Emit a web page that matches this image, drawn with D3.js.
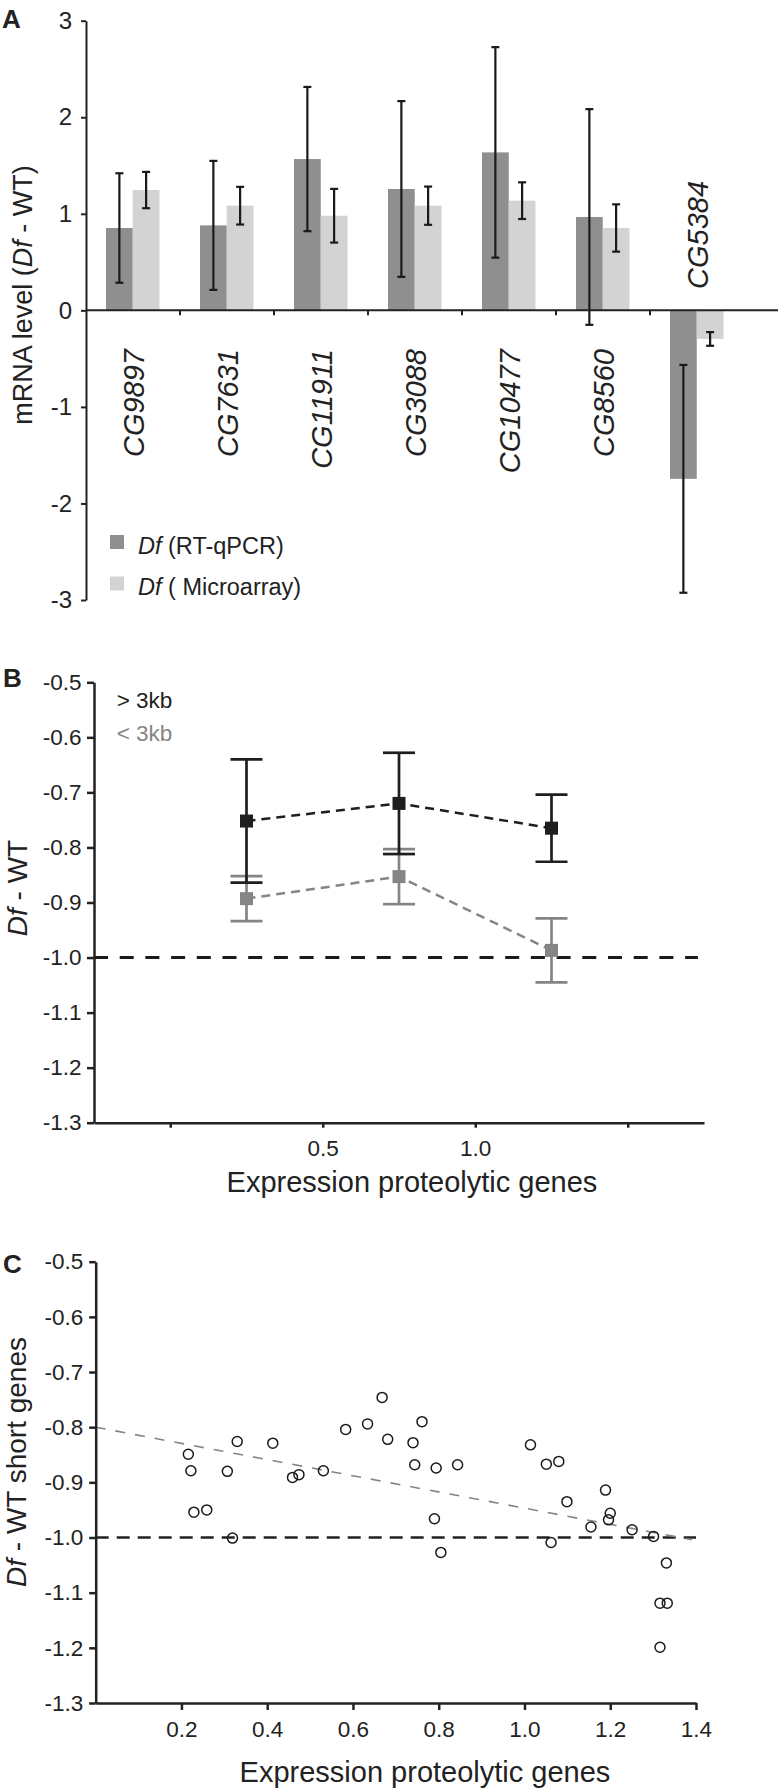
<!DOCTYPE html>
<html><head><meta charset="utf-8">
<script src="https://cdn.jsdelivr.net/npm/d3@7"></script>
<style>
body{margin:0;background:#fff;}
svg{display:block;font-family:"Liberation Sans", Arial, Helvetica, sans-serif;}
</style></head><body>
<svg id="chart" width="778" height="1790"></svg>
<script>
// ---------- Panel A data ----------
const genes = ["CG9897","CG7631","CG11911","CG3088","CG10477","CG8560","CG5384"];
const seriesA = ["RT-qPCR","Microarray"];
const qpcrVals = [0.853, 0.88, 1.567, 1.257, 1.636, 0.967, -1.745];
const qpcrErr  = [0.567, 0.668, 0.747, 0.91, 1.09, 1.117, 1.18];
const microVals = [1.246, 1.084, 0.98, 1.084, 1.136, 0.853, -0.296];
const microErr  = [0.188, 0.195, 0.278, 0.198, 0.19, 0.245, 0.071];
const yTicksA = [-3,-2,-1,0,1,2,3];

// ---------- Panel B data ----------
const exprB = [0.25, 0.75, 1.25];
const longVals = [-0.752, -0.72, -0.765];
const longErr  = [0.112, 0.092, 0.061];
const shortVals = [-0.893, -0.853, -0.987];
const shortErr  = [0.041, 0.05, 0.058];
const yTicksB = [-1.3,-1.2,-1.1,-1.0,-0.9,-0.8,-0.7,-0.6,-0.5];
const xTicksB = [0, 0.5, 1.0, 1.5];
const xLabelsB = ["", "0.5", "1.0", ""];

// ---------- Panel C data ----------
const exprC = [0.216,0.222,0.229,0.259,0.307,0.330,0.319,0.413,0.459,0.474,0.531,0.583,0.634,0.668,0.681,0.761,0.740,0.744,0.794,0.844,0.790,0.805,1.014,1.051,1.080,1.099,1.062,1.189,1.200,1.196,1.155,1.251,1.301,1.331,1.316,1.333,1.316];
const dfC   = [-0.849,-0.879,-0.954,-0.950,-0.880,-0.826,-1.001,-0.829,-0.891,-0.886,-0.879,-0.804,-0.794,-0.746,-0.822,-0.790,-0.828,-0.868,-0.874,-0.868,-0.966,-1.027,-0.832,-0.867,-0.862,-0.935,-1.009,-0.914,-0.956,-0.968,-0.981,-0.986,-0.998,-1.046,-1.119,-1.119,-1.199];
const fitX = [0, 1.39];
const fitY = [-0.8, -1.004];
const yTicksC = [-1.3,-1.2,-1.1,-1.0,-0.9,-0.8,-0.7,-0.6,-0.5];
const xTicksC = [0.2,0.4,0.6,0.8,1.0,1.2,1.4];

const INK = "#222";
const svg = d3.select("#chart");

function styleAxis(g, fs, sw){
  g.select(".domain").attr("stroke", INK).attr("stroke-width", sw);
  g.selectAll(".tick line").attr("stroke", INK).attr("stroke-width", sw);
  g.selectAll(".tick text").attr("fill", INK).attr("font-size", fs).attr("font-family", '"Liberation Sans", Arial, sans-serif');
}
function errBar(g, x, y1, y2, half, color, sw){
  g.append("line").attr("x1",x).attr("x2",x).attr("y1",y1).attr("y2",y2).attr("stroke",color).attr("stroke-width",sw);
  [y1,y2].forEach(y=> g.append("line").attr("x1",x-half).attr("x2",x+half).attr("y1",y).attr("y2",y).attr("stroke",color).attr("stroke-width",sw));
}

// ================= PANEL A =================
const gA = svg.append("g");
const xA = d3.scaleBand().domain(genes).range([86, 744]);
const xA1 = d3.scaleBand().domain(seriesA).range([20, 73.5]);
const yA = d3.scaleLinear().domain([-3, 3]).range([600, 20.7]);
const colA = {"RT-qPCR":"#8f8f8f","Microarray":"#d3d3d3"};
const rowsA = genes.map((g,i)=>({gene:g, vals:[
  {s:"RT-qPCR", v:qpcrVals[i], e:qpcrErr[i]},
  {s:"Microarray", v:microVals[i], e:microErr[i]}]}));

const grp = gA.selectAll("g.grp").data(rowsA).join("g").attr("class","grp")
  .attr("transform", d=>`translate(${xA(d.gene)},0)`);
grp.selectAll("rect").data(d=>d.vals).join("rect")
  .attr("x", d=>xA1(d.s)).attr("width", xA1.bandwidth())
  .attr("y", d=>yA(Math.max(0,d.v))).attr("height", d=>Math.abs(yA(d.v)-yA(0)))
  .attr("fill", d=>colA[d.s]);
grp.each(function(d){
  const g = d3.select(this);
  d.vals.forEach(o=>{
    errBar(g, xA1(o.s)+xA1.bandwidth()/2, yA(o.v+o.e), yA(o.v-o.e), 4, "#1a1a1a", 2.2);
  });
});

// y axis
const axA = gA.append("g").attr("transform","translate(86,0)")
  .call(d3.axisLeft(yA).tickValues(yTicksA).tickFormat(d=>String(d)).tickSize(5).tickPadding(9).tickSizeOuter(0));
styleAxis(axA, 24, 2);
// x axis (zero line)
gA.append("line").attr("x1", xA.range()[0]).attr("x2", 778).attr("y1", yA(0)).attr("y2", yA(0)).attr("stroke", INK).attr("stroke-width", 2);
gA.selectAll("line.ctick").data(genes.slice(1)).join("line").attr("class","ctick")
  .attr("x1", d=>xA(d)).attr("x2", d=>xA(d)).attr("y1", yA(0)).attr("y2", yA(0)+5)
  .attr("stroke", INK).attr("stroke-width", 2);

// gene labels
gA.selectAll("text.gene").data(genes).join("text").attr("class","gene")
  .attr("transform", (d,i)=> i < genes.length-1
      ? `translate(${xA(d)+xA.bandwidth()/2+11},349) rotate(-90)`
      : `translate(${xA(d)+xA.bandwidth()/2+11},289) rotate(-90)`)
  .attr("text-anchor", (d,i)=> i < genes.length-1 ? "end" : "start")
  .attr("font-size", 29).attr("font-style","italic").attr("fill", INK).text(d=>d);

// y label
const ylA = gA.append("text").attr("transform","translate(32,295) rotate(-90)").attr("text-anchor","middle")
  .attr("font-size",27).attr("fill",INK);
ylA.append("tspan").text("mRNA level (");
ylA.append("tspan").attr("font-style","italic").text("Df");
ylA.append("tspan").text(" - WT)");

// legend
const legA = [{s:"RT-qPCR", t:" (RT-qPCR)"},{s:"Microarray", t:" ( Microarray)"}];
legA.forEach((l,i)=>{
  const y0 = 535 + i*41.5;
  gA.append("rect").attr("x",110).attr("y",y0).attr("width",14).attr("height",14).attr("fill",colA[l.s]);
  const t = gA.append("text").attr("x",138).attr("y",y0+18.5).attr("font-size",23.5).attr("fill",INK);
  t.append("tspan").attr("font-style","italic").text("Df");
  t.append("tspan").text(l.t);
});
gA.append("text").attr("x",2).attr("y",28).attr("font-size",26).attr("font-weight","bold").attr("fill",INK).text("A");

// ================= PANEL B =================
const gB = svg.append("g");
const xB = d3.scaleLinear().domain([-0.25, 1.75]).range([94, 704]);
const yB = d3.scaleLinear().domain([-1.3, -0.5]).range([1122.7, 682.3]);

gB.append("line").attr("x1", xB(-0.25)).attr("x2", xB(1.73)).attr("y1", yB(-1)).attr("y2", yB(-1))
  .attr("stroke","#1a1a1a").attr("stroke-width",3).attr("stroke-dasharray","14,11.7");

const seriesB = [
  {name:"< 3kb", color:"#858585", vals:shortVals, errs:shortErr},
  {name:"> 3kb", color:"#1e1e1e", vals:longVals, errs:longErr}
];
const lineB = d3.line().x(d=>xB(d[0])).y(d=>yB(d[1]));
seriesB.forEach(s=>{
  const pts = exprB.map((x,i)=>[x, s.vals[i]]);
  gB.append("path").attr("d", lineB(pts)).attr("fill","none").attr("stroke", s.color)
    .attr("stroke-width",2.5).attr("stroke-dasharray","9,6");
});
seriesB.forEach(s=>{
  exprB.forEach((x,i)=>{
    errBar(gB, xB(x), yB(s.vals[i]+s.errs[i]), yB(s.vals[i]-s.errs[i]), 16, s.color, 2.7);
  });
  gB.selectAll(null).data(exprB.map((x,i)=>[x,s.vals[i]])).join("rect")
    .attr("x", d=>xB(d[0])-6.5).attr("y", d=>yB(d[1])-6.5).attr("width",13).attr("height",13).attr("fill", s.color);
});

const axBy = gB.append("g").attr("transform","translate(94,0)")
  .call(d3.axisLeft(yB).tickValues(yTicksB).tickFormat(d=>d.toFixed(1)).tickSize(7).tickPadding(5.5).tickSizeOuter(0));
styleAxis(axBy, 22.5, 2.5);
const axBx = gB.append("g").attr("transform",`translate(0,${yB(-1.3)})`)
  .call(d3.axisBottom(xB).tickValues(xTicksB).tickFormat((d,i)=>xLabelsB[i]).tickSize(5).tickPadding(12).tickSizeOuter(0));
styleAxis(axBx, 22.5, 2.5);

gB.append("text").attr("x",116.7).attr("y",708).attr("font-size",22.5).attr("fill","#1e1e1e").text("> 3kb");
gB.append("text").attr("x",116.7).attr("y",741).attr("font-size",22.5).attr("fill","#858585").text("< 3kb");

const ylB = gB.append("text").attr("transform","translate(26.5,888) rotate(-90)").attr("text-anchor","middle")
  .attr("font-size",28).attr("fill",INK);
ylB.append("tspan").attr("font-style","italic").text("Df");
ylB.append("tspan").text(" - WT");
gB.append("text").attr("x",412).attr("y",1191.5).attr("text-anchor","middle").attr("font-size",29).attr("fill",INK)
  .text("Expression proteolytic genes");
gB.append("text").attr("x",3).attr("y",687).attr("font-size",26).attr("font-weight","bold").attr("fill",INK).text("B");

// ================= PANEL C =================
const gC = svg.append("g");
const xC = d3.scaleLinear().domain([0, 1.4]).range([95.7, 696]);
const yC = d3.scaleLinear().domain([-1.3, -0.5]).range([1703, 1261.7]);

gC.append("line").attr("x1", xC(0)).attr("x2", xC(1.4)).attr("y1", yC(-1)).attr("y2", yC(-1))
  .attr("stroke","#222").attr("stroke-width",2.5).attr("stroke-dasharray","13,8");
gC.append("path").attr("d", d3.line().x(d=>xC(d[0])).y(d=>yC(d[1]))(fitX.map((x,i)=>[x,fitY[i]])))
  .attr("fill","none").attr("stroke","#858585").attr("stroke-width",1.6).attr("stroke-dasharray","10,10");
gC.selectAll("circle").data(exprC.map((x,i)=>[x,dfC[i]])).join("circle")
  .attr("cx", d=>xC(d[0])).attr("cy", d=>yC(d[1])).attr("r",5)
  .attr("fill","none").attr("stroke","#1a1a1a").attr("stroke-width",1.5);

const axCy = gC.append("g").attr("transform","translate(95.7,0)")
  .call(d3.axisLeft(yC).tickValues(yTicksC).tickFormat(d=>d.toFixed(1)).tickSize(6.5).tickPadding(6).tickSizeOuter(0));
styleAxis(axCy, 22.5, 2.5);
const axCx = gC.append("g").attr("transform",`translate(0,${yC(-1.3)})`)
  .call(d3.axisBottom(xC).tickValues(xTicksC).tickFormat(d=>d.toFixed(1)).tickSize(7).tickPadding(11).tickSizeOuter(0));
styleAxis(axCx, 22.5, 2.5);

const ylC = gC.append("text").attr("transform","translate(26,1462) rotate(-90)").attr("text-anchor","middle")
  .attr("font-size",28).attr("fill",INK);
ylC.append("tspan").attr("font-style","italic").text("Df");
ylC.append("tspan").text(" - WT short genes");
gC.append("text").attr("x",425).attr("y",1781.5).attr("text-anchor","middle").attr("font-size",29).attr("fill",INK)
  .text("Expression proteolytic genes");
gC.append("text").attr("x",3).attr("y",1273).attr("font-size",26).attr("font-weight","bold").attr("fill",INK).text("C");
</script>
</body></html>
